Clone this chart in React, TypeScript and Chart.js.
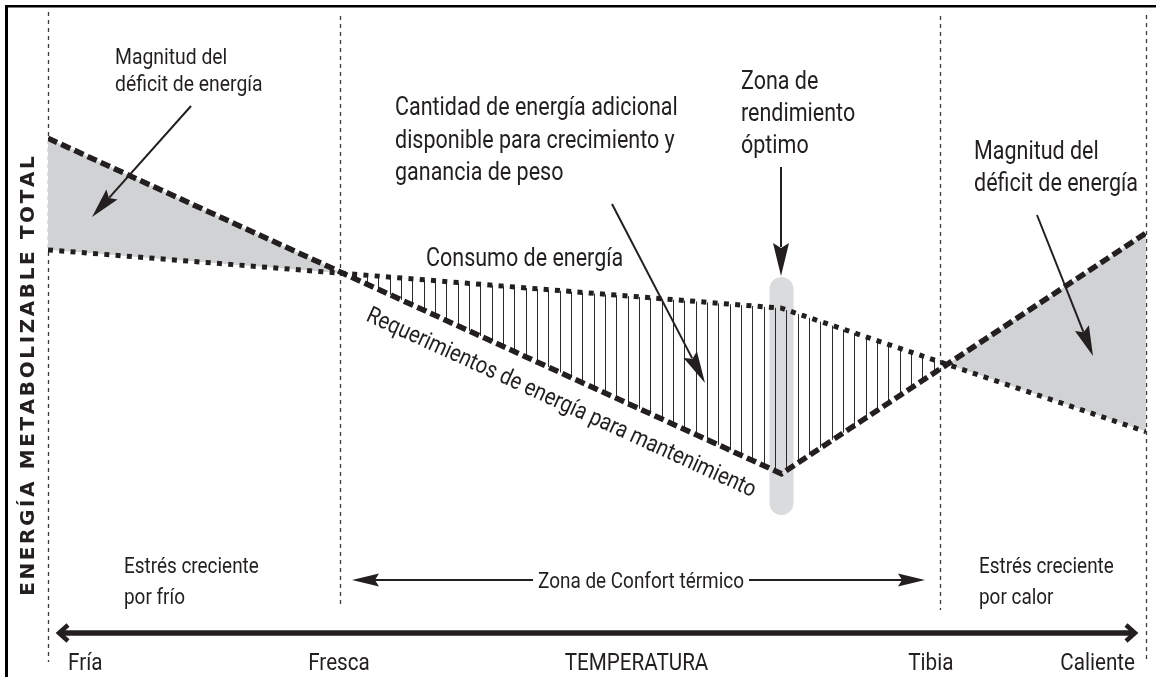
import React, { useEffect, useRef } from 'react';
import { Chart, registerables } from 'chart.js';

Chart.register(...registerables);

// ---- Data (temperature axis: 0 = Fría ... 100 = Caliente; energy axis 0..100) ----
const puntosTemperatura = [0, 66.8, 100];
const requerimientos = [78.9, 25.4, 63.8];
const consumoEnergia = [61.1, 51.8, 32.1];
const limitesZona = [0, 26.6, 81.2, 100];
const etiquetasTemperatura = ['Fría', 'Fresca', 'TEMPERATURA', 'Tibia', 'Caliente'];
const posicionesEtiquetas = [3.4, 26.5, 53.6, 80.4, 95.6];
const zonaOptima = 66.8;

// ---- Styles / layout ----
const INK = '#231f20';
const GREY = '#d1d2d4';
const BAR_GREY = '#dadbdd';
const SX = 0.86; // horizontal condensing for text
const FONT = 'Roboto, "Noto Sans", sans-serif';

const zoneTops = [12, 16, 16, 15];
const zoneBottoms = [662, 607, 610, 662];

const notas = [
  { lines: ['Magnitud del', 'déficit de energía'], x: 115, y: 64, lh: 27, size: 22.5 },
  { lines: ['Cantidad de energía adicional', 'disponible para crecimiento y', 'ganancia de peso'], x: 395, y: 115, lh: 32.5, size: 25 },
  { lines: ['Consumo de energía'], x: 426, y: 266, lh: 0, size: 25 },
  { lines: ['Zona de', 'rendimiento', 'óptimo'], x: 741, y: 89, lh: 32, size: 25 },
  { lines: ['Magnitud del', 'déficit de energía'], x: 974, y: 159, lh: 32, size: 25 },
  { lines: ['Estrés creciente', 'por frío'], x: 124, y: 573, lh: 31, size: 22 },
  { lines: ['Estrés creciente', 'por calor'], x: 979, y: 573, lh: 31, size: 22 },
];

const flechas = [
  { from: [191, 106], to: [92, 217], hl: 30, hw: 15 },
  { from: [612, 204], to: [705, 383], hl: 32, hw: 15 },
  { from: [781, 167], to: [781, 276], hl: 33, hw: 16 },
  { from: [1037, 215], to: [1093, 356], hl: 30, hw: 15 },
  { from: [533, 580], to: [352, 580], hl: 27, hw: 13 },
  { from: [749, 580], to: [925, 580], hl: 27, hw: 13 },
];

function drawText(ctx: CanvasRenderingContext2D, s: string, x: number, y: number, size: number, align: 'left' | 'center' = 'left') {
  ctx.save();
  ctx.font = `${size}px ${FONT}`;
  const w = ctx.measureText(s).width * SX;
  const x0 = align === 'center' ? x - w / 2 : x;
  ctx.translate(x0, y);
  ctx.scale(SX, 1);
  ctx.textAlign = 'left';
  ctx.textBaseline = 'alphabetic';
  ctx.fillStyle = INK;
  ctx.fillText(s, 0, 0);
  ctx.restore();
}

function drawArrow(ctx: CanvasRenderingContext2D, x1: number, y1: number, x2: number, y2: number, hl: number, hw: number, lw = 2) {
  const a = Math.atan2(y2 - y1, x2 - x1);
  const bx = x2 - hl * Math.cos(a);
  const by = y2 - hl * Math.sin(a);
  ctx.save();
  ctx.strokeStyle = INK;
  ctx.fillStyle = INK;
  ctx.lineWidth = lw;
  ctx.setLineDash([]);
  ctx.beginPath();
  ctx.moveTo(x1, y1);
  ctx.lineTo(bx + 4 * Math.cos(a), by + 4 * Math.sin(a));
  ctx.stroke();
  const nx = Math.sin(a) * hw / 2;
  const ny = -Math.cos(a) * hw / 2;
  const ix = x2 - hl * 0.85 * Math.cos(a);
  const iy = y2 - hl * 0.85 * Math.sin(a);
  ctx.beginPath();
  ctx.moveTo(x2, y2);
  ctx.lineTo(bx + nx, by + ny);
  ctx.lineTo(ix, iy);
  ctx.lineTo(bx - nx, by - ny);
  ctx.closePath();
  ctx.fill();
  ctx.restore();
}

function drawSpaced(ctx: CanvasRenderingContext2D, text: string, spacing: number) {
  const chars = Array.from(text);
  const widths = chars.map((c) => ctx.measureText(c).width);
  const total = widths.reduce((a, b) => a + b, 0) + spacing * (chars.length - 1);
  let x = -total / 2;
  chars.forEach((c, i) => {
    ctx.fillText(c, x, 0);
    x += widths[i] + spacing;
  });
}

const decorPlugin = {
  id: 'decor',
  beforeDraw(chart: any) {
    const ctx: CanvasRenderingContext2D = chart.ctx;
    const xs = chart.scales.x;
    ctx.save();
    // frame (top and left)
    ctx.fillStyle = '#000';
    ctx.fillRect(5, 5, 1151, 2.5);
    ctx.fillRect(5, 5, 3, 672);
    // zone boundaries
    ctx.strokeStyle = '#3a3a3a';
    ctx.lineWidth = 1.3;
    ctx.setLineDash([4, 4]);
    limitesZona.forEach((v, i) => {
      const x = Math.round(xs.getPixelForValue(v)) + 0.5;
      ctx.beginPath();
      ctx.moveTo(x, zoneTops[i]);
      ctx.lineTo(x, zoneBottoms[i]);
      ctx.stroke();
    });
    ctx.setLineDash([]);
    // optimum zone bar
    const cx = xs.getPixelForValue(zonaOptima);
    const w = 24;
    const top = 277;
    const bottom = 515;
    ctx.fillStyle = BAR_GREY;
    ctx.beginPath();
    ctx.moveTo(cx - w / 2, top + w / 2);
    ctx.arc(cx, top + w / 2, w / 2, Math.PI, 0);
    ctx.lineTo(cx + w / 2, bottom - w / 2);
    ctx.arc(cx, bottom - w / 2, w / 2, 0, Math.PI);
    ctx.closePath();
    ctx.fill();
    ctx.restore();
  },
  afterDatasetsDraw(chart: any) {
    const ctx: CanvasRenderingContext2D = chart.ctx;
    const xs = chart.scales.x;
    const ys = chart.scales.y;
    const area = chart.chartArea;
    ctx.save();

    // temperature axis arrow
    const ay = area.bottom;
    const left = 59;
    const right = 1135;
    ctx.strokeStyle = INK;
    ctx.lineWidth = 5.5;
    ctx.lineJoin = 'miter';
    ctx.beginPath();
    ctx.moveTo(left + 3, ay);
    ctx.lineTo(right - 3, ay);
    ctx.stroke();
    ctx.lineWidth = 4.5;
    ctx.beginPath();
    ctx.moveTo(left + 9, ay - 8);
    ctx.lineTo(left, ay);
    ctx.lineTo(left + 9, ay + 8);
    ctx.stroke();
    ctx.beginPath();
    ctx.moveTo(right - 9, ay - 8);
    ctx.lineTo(right, ay);
    ctx.lineTo(right - 9, ay + 8);
    ctx.stroke();

    // bottom labels
    etiquetasTemperatura.forEach((t, i) => {
      drawText(ctx, t, xs.getPixelForValue(posicionesEtiquetas[i]), 670, 24, 'center');
    });

    // notes
    notas.forEach((n) => {
      n.lines.forEach((l, i) => drawText(ctx, l, n.x, n.y + i * n.lh, n.size));
    });
    drawText(ctx, 'Zona de Confort térmico', 641, 588, 22, 'center');

    // arrows
    flechas.forEach((f) => drawArrow(ctx, f.from[0], f.from[1], f.to[0], f.to[1], f.hl, f.hw));

    // rotated label along the maintenance requirement line
    const p0x = xs.getPixelForValue(puntosTemperatura[0]);
    const p0y = ys.getPixelForValue(requerimientos[0]);
    const p1x = xs.getPixelForValue(puntosTemperatura[1]);
    const p1y = ys.getPixelForValue(requerimientos[1]);
    const ang = Math.atan2(p1y - p0y, p1x - p0x);
    const bx = 365;
    const by = p0y + (bx - p0x) * Math.tan(ang) + 37;
    ctx.save();
    ctx.translate(bx, by);
    ctx.rotate(ang);
    ctx.scale(SX, 1);
    ctx.font = `23.5px ${FONT}`;
    ctx.fillStyle = INK;
    ctx.textBaseline = 'alphabetic';
    ctx.fillText('Requerimientos de energía para mantenimiento', 0, 0);
    ctx.restore();

    // y title
    ctx.save();
    ctx.translate(34, 376);
    ctx.rotate(-Math.PI / 2);
    ctx.font = `bold 20px "DejaVu Sans", sans-serif`;
    ctx.fillStyle = INK;
    ctx.textBaseline = 'alphabetic';
    drawSpaced(ctx, 'ENERGÍA METABOLIZABLE TOTAL', 2.6);
    ctx.restore();

    ctx.restore();
  },
};

export default function App() {
  const ref = useRef<HTMLCanvasElement>(null);
  useEffect(() => {
    const canvas = ref.current;
    if (!canvas) return;
    const pc = document.createElement('canvas');
    pc.width = 34;
    pc.height = 4;
    const pctx = pc.getContext('2d')!;
    pctx.fillStyle = '#2a2a2a';
    [4, 16, 27].forEach((x) => pctx.fillRect(x, 0, 1, 4));
    const pattern = canvas.getContext('2d')!.createPattern(pc, 'repeat')!;

    const reqData = puntosTemperatura.map((x, i) => ({ x, y: requerimientos[i] }));
    const conData = puntosTemperatura.map((x, i) => ({ x, y: consumoEnergia[i] }));

    const chart = new Chart(canvas, {
      type: 'scatter',
      data: {
        datasets: [
          {
            label: 'Requerimientos de energía para mantenimiento',
            data: reqData,
            showLine: true,
            borderColor: INK,
            borderWidth: 5.5,
            borderDash: [10, 4.5],
            borderCapStyle: 'butt',
            borderJoinStyle: 'miter',
            pointRadius: 0,
            tension: 0,
            fill: { target: 1, above: GREY, below: 'rgba(0,0,0,0)' },
            order: 0,
          } as any,
          {
            label: 'Consumo de energía',
            data: conData,
            showLine: true,
            borderColor: INK,
            borderWidth: 5,
            borderDash: [5, 6.3],
            borderCapStyle: 'butt',
            pointRadius: 0,
            tension: 0,
            fill: { target: 0, above: pattern, below: 'rgba(0,0,0,0)' },
            order: 1,
          } as any,
        ],
      },
      options: {
        animation: false,
        responsive: false,
        devicePixelRatio: 1,
        layout: { padding: { left: 48, right: 10, top: 6, bottom: 44 } },
        scales: {
          x: { type: 'linear', min: 0, max: 100, display: false },
          y: { type: 'linear', min: 0, max: 100, display: false },
        },
        plugins: {
          legend: { display: false },
          tooltip: { enabled: false },
          filler: { propagate: false, drawTime: 'beforeDatasetsDraw' },
        } as any,
        events: [],
      },
      plugins: [decorPlugin],
    });
    return () => chart.destroy();
  }, []);

  return (
    <div style={{ position: 'fixed', left: 0, top: 0, width: 1156, height: 677, background: '#fff' }}>
      <canvas ref={ref} width={1156} height={677} style={{ display: 'block', width: 1156, height: 677 }} />
    </div>
  );
}
